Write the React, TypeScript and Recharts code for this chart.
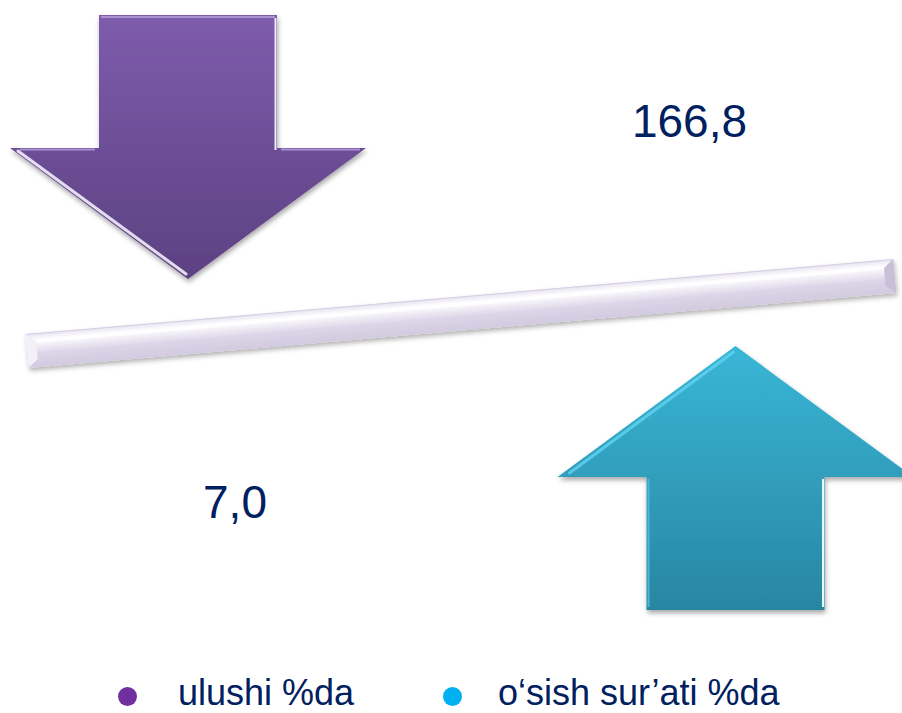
import React from "react";
import {
  ComposedChart,
  Bar,
  XAxis,
  YAxis,
  LabelList,
  Legend,
  Customized,
} from "recharts";

// categories, values and arrow direction for each category
const categories = ["ulushi %da", "o‘sish sur’ati %da"];
const values = [7.0, 166.8];
const directions = ["down", "up"];
const legendColors = ["#7030A0", "#00B0F0"];
const gradientIds = ["arrowPurple", "arrowTeal"];

const chartData = categories.map((name, i) => ({
  name,
  value: values[i],
  direction: directions[i],
}));

const TEXT_COLOR = "#002060";
const FONT = "'Liberation Sans', Arial, sans-serif";

const formatValue = (v: number) => v.toFixed(1).replace(".", ",");

function ArrowShape(props: any) {
  const { x, width, index } = props;
  const cx = x + width / 2;
  const half = width / 2;
  const shaft = half / 2;
  const dir = directions[index];
  const fill = `url(#${gradientIds[index]})`;

  if (dir === "down") {
    const top = 15;
    const base = 148;
    const tip = 279;
    const pts = [
      [cx - shaft, top],
      [cx + shaft, top],
      [cx + shaft, base],
      [cx + half, base],
      [cx, tip],
      [cx - half, base],
      [cx - shaft, base],
    ]
      .map((p) => p.join(","))
      .join(" ");
    return (
      <g>
        <polygon points={pts} fill={fill} filter="url(#arrowShadow)" />
        <line x1={cx - shaft + 2} y1={top + 2} x2={cx + shaft - 2} y2={top + 2} stroke="#A994CF" strokeWidth={2} />
        <line x1={cx + shaft - 1.5} y1={top + 3} x2={cx + shaft - 1.5} y2={base + 2} stroke="#F1EAFD" strokeWidth={2} />
        <line x1={cx + shaft + 4} y1={base + 1.5} x2={cx + half - 6} y2={base + 1.5} stroke="#A78FD0" strokeWidth={2} />
        <line x1={cx - half + 8} y1={base + 3} x2={cx - 2} y2={tip - 5} stroke="#FBF7FF" strokeWidth={3} strokeLinecap="round" opacity={0.85} />
        <line x1={cx - half + 10} y1={base + 1.5} x2={cx - shaft - 4} y2={base + 1.5} stroke="#A78FD0" strokeWidth={2} />
      </g>
    );
  }

  const tip = 346;
  const base = 477;
  const bottom = 610;
  const pts = [
    [cx, tip],
    [cx + half, base],
    [cx + shaft, base],
    [cx + shaft, bottom],
    [cx - shaft, bottom],
    [cx - shaft, base],
    [cx - half, base],
  ]
    .map((p) => p.join(","))
    .join(" ");
  return (
    <g>
      <polygon points={pts} fill={fill} filter="url(#arrowShadow)" />
      <line x1={cx - half + 12} y1={base - 4} x2={cx - 2} y2={tip + 6} stroke="#62D3F0" strokeWidth={3} strokeLinecap="round" opacity={0.8} />
      <line x1={cx + shaft - 1.5} y1={base + 2} x2={cx + shaft - 1.5} y2={bottom - 3} stroke="#E6FBFF" strokeWidth={2} />
      <line x1={cx - shaft + 2} y1={base + 2} x2={cx - shaft + 2} y2={bottom - 3} stroke="#4EB6D0" strokeWidth={2} />
    </g>
  );
}

function ValueLabel(props: any) {
  const { x, width, value } = props;
  let index = props.index;
  if (index === undefined) index = values.indexOf(value);
  const cx = x + width / 2;
  const dir = directions[index];
  const lx = dir === "down" ? cx + 47 : cx - 46;
  const ly = dir === "down" ? 518 : 137;
  return (
    <text
      x={lx}
      y={ly}
      textAnchor="middle"
      fill={TEXT_COLOR}
      fontSize={46}
      fontFamily={FONT}
    >
      {formatValue(Number(value))}
    </text>
  );
}

function Beam() {
  // the seesaw plank the two arrows push on
  const len = 871;
  const angle = -4.94;
  return (
    <g transform={`translate(27,351) rotate(${angle})`}>
      <rect x={0} y={-17} width={len} height={34} fill="url(#beamFill)" filter="url(#beamShadow)" />
      <polygon points={`0,-17 10,-9 10,9 0,17`} fill="#F3F0F8" />
      <polygon points={`${len},-17 ${len - 10},-9 ${len - 10},9 ${len},17`} fill="#C9C0D8" />
      <line x1={10} y1={-9} x2={len - 10} y2={-9} stroke="#FFFFFF" strokeWidth={3} opacity={0.9} />
      <line x1={0} y1={-16.5} x2={len} y2={-16.5} stroke="#D6CDE6" strokeWidth={1} />
    </g>
  );
}

function Defs() {
  return (
    <defs>
      <linearGradient id="arrowPurple" x1="0" y1="0" x2="0" y2="1">
        <stop offset="0%" stopColor="#7E5CAC" />
        <stop offset="100%" stopColor="#5C4182" />
      </linearGradient>
      <linearGradient id="arrowTeal" x1="0" y1="0" x2="0" y2="1">
        <stop offset="0%" stopColor="#39B6D6" />
        <stop offset="100%" stopColor="#2886A2" />
      </linearGradient>
      <linearGradient id="beamFill" x1="0" y1="0" x2="0" y2="1">
        <stop offset="0%" stopColor="#E6E1EF" />
        <stop offset="20%" stopColor="#FFFFFF" />
        <stop offset="40%" stopColor="#EEEAF4" />
        <stop offset="60%" stopColor="#DCD5E8" />
        <stop offset="100%" stopColor="#D2CADF" />
      </linearGradient>
      <filter id="arrowShadow" x="-10%" y="-10%" width="120%" height="125%">
        <feDropShadow dx="1" dy="3" stdDeviation="2.5" floodColor="#000" floodOpacity="0.35" />
      </filter>
      <filter id="beamShadow" x="-5%" y="-50%" width="110%" height="220%">
        <feDropShadow dx="1" dy="3" stdDeviation="2.5" floodColor="#000" floodOpacity="0.3" />
      </filter>
    </defs>
  );
}

function LegendContent() {
  const items = [
    { dot: 127, text: 178 },
    { dot: 452, text: 498 },
  ];
  return (
    <div style={{ position: "relative", width: 902, height: 50 }}>
      {categories.map((name, i) => (
        <React.Fragment key={name}>
          <span
            style={{
              position: "absolute",
              left: items[i].dot - 9.5,
              top: 23.5,
              width: 19,
              height: 19,
              borderRadius: "50%",
              background: legendColors[i],
            }}
          />
          <span
            style={{
              position: "absolute",
              left: items[i].text,
              top: 12,
              fontFamily: FONT,
              fontSize: 36,
              lineHeight: "36px",
              color: TEXT_COLOR,
              whiteSpace: "nowrap",
            }}
          >
            {name}
          </span>
        </React.Fragment>
      ))}
    </div>
  );
}

export default function App() {
  return (
    <div style={{ position: "absolute", left: 0, top: 0, width: 902, height: 713, background: "#fff", overflow: "hidden" }}>
      <ComposedChart
        width={902}
        height={713}
        data={chartData}
        margin={{ top: 0, right: -107, bottom: 0, left: -86 }}
      >
        <Customized component={<Defs />} />
        <XAxis dataKey="name" hide />
        <YAxis hide domain={[0, 200]} />
        <Customized component={<Beam />} />
        <Bar
          dataKey="value"
          barSize={356}
          shape={<ArrowShape />}
          isAnimationActive={false}
        >
          <LabelList dataKey="value" content={<ValueLabel />} />
        </Bar>
        <Legend
          verticalAlign="bottom"
          content={<LegendContent />}
          wrapperStyle={{ left: 0, bottom: 0, width: 902, height: 50 }}
        />
      </ComposedChart>
    </div>
  );
}
